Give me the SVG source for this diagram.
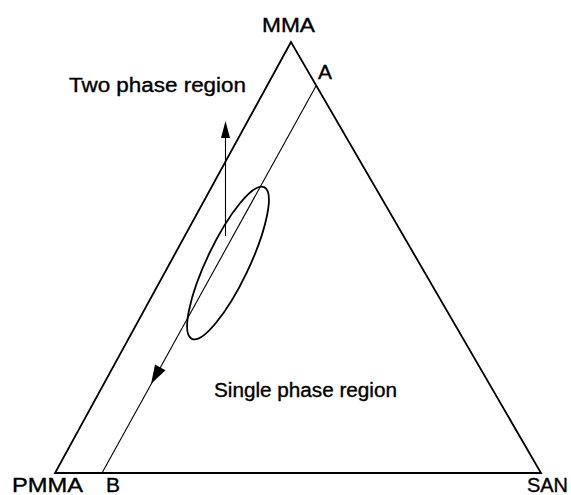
<svg xmlns="http://www.w3.org/2000/svg" width="571" height="495" viewBox="0 0 571 495">
<style>
.lbl{font-family:"Liberation Sans",Arial,Helvetica,sans-serif;font-size:19.5px;fill:#000;stroke:#000;stroke-width:0.35}
.edge{fill:none;stroke:#000;stroke-width:1.8;stroke-linejoin:miter}
.thin{fill:none;stroke:#000;stroke-width:1.1}
.head{fill:#000;stroke:none}
</style>
<rect width="571" height="495" fill="#fff"/>
<g id="triangle">
<polygon class="edge" points="291,42 55,473 541,473"/>
</g>
<g id="connectors">
<line class="thin" x1="316" y1="86" x2="102" y2="473"/>
<polygon class="head" points="151,384 155,364.5 165.5,370.3"/>
<line class="thin" x1="225.5" y1="236" x2="225.5" y2="136"/>
<polygon class="head" points="225.5,121 221,138 230,138"/>
</g>
<g id="region-ellipse">
<ellipse class="edge" cx="228" cy="263" rx="84" ry="21" transform="rotate(-64.5 228 263)"/>
</g>
<g id="label-MMA"><text class="lbl" x="262" y="32" textLength="53" lengthAdjust="spacingAndGlyphs">MMA</text></g>
<g id="label-A"><text class="lbl" x="318" y="79" textLength="14" lengthAdjust="spacingAndGlyphs">A</text></g>
<g id="label-two-phase"><text class="lbl" x="69" y="92" textLength="177" lengthAdjust="spacingAndGlyphs">Two phase region</text></g>
<g id="label-single-phase"><text class="lbl" x="214" y="397" textLength="183" lengthAdjust="spacingAndGlyphs">Single phase region</text></g>
<g id="label-PMMA"><text class="lbl" x="12" y="492" textLength="71" lengthAdjust="spacingAndGlyphs">PMMA</text></g>
<g id="label-B"><text class="lbl" x="106" y="492" textLength="14" lengthAdjust="spacingAndGlyphs">B</text></g>
<g id="label-SAN"><text class="lbl" x="527" y="492" textLength="41" lengthAdjust="spacingAndGlyphs">SAN</text></g>
</svg>
